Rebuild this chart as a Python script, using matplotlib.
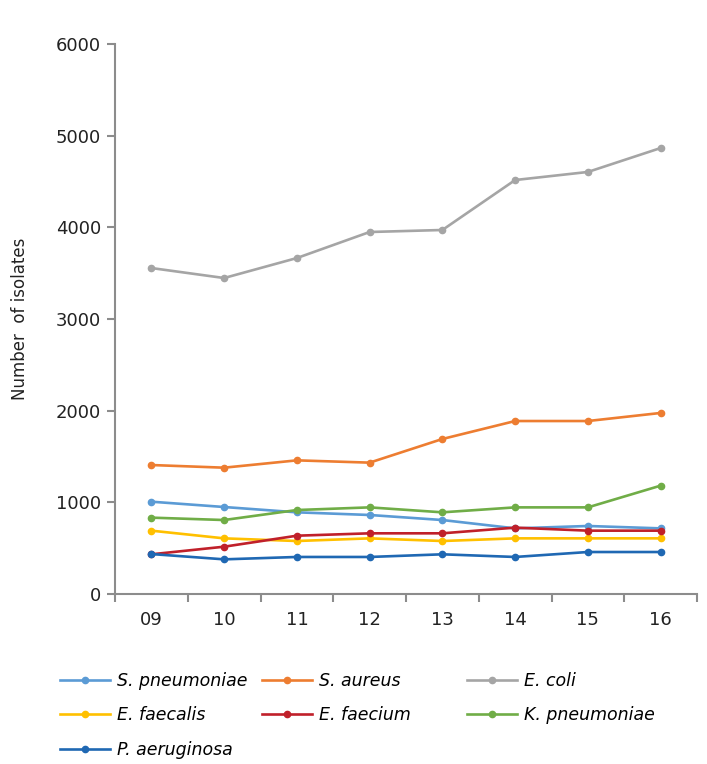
import matplotlib.pyplot as plt
from matplotlib.ticker import FixedLocator, NullFormatter

# Data
years = ['09', '10', '11', '12', '13', '14', '15', '16']
s_pneumoniae = [1007, 949, 891, 862, 807, 716, 742, 716]
s_aureus = [1407, 1378, 1458, 1433, 1691, 1887, 1887, 1975]
e_coli = [3556, 3447, 3665, 3949, 3971, 4516, 4604, 4865]
e_faecalis = [691, 607, 578, 607, 578, 607, 607, 607]
e_faecium = [433, 516, 636, 662, 662, 724, 691, 691]
k_pneumoniae = [833, 807, 916, 945, 891, 945, 945, 1182]
p_aeruginosa = [436, 378, 404, 404, 433, 404, 458, 458]

series = [
    ('S. pneumoniae', s_pneumoniae, '#5B9BD5'),
    ('S. aureus', s_aureus, '#ED7D31'),
    ('E. coli', e_coli, '#A5A5A5'),
    ('E. faecalis', e_faecalis, '#FFC000'),
    ('E. faecium', e_faecium, '#C0202A'),
    ('K. pneumoniae', k_pneumoniae, '#70AD47'),
    ('P. aeruginosa', p_aeruginosa, '#1F68B3'),
]

fig = plt.figure(figsize=(7.07, 7.64), dpi=100)
ax = fig.add_axes([115 / 707, 170 / 764, 582 / 707, 550 / 764])

x = list(range(len(years)))
lines = {}
for name, vals, col in series:
    ln, = ax.plot(x, vals, color=col, lw=1.9, marker='o', markersize=4.5, label=name)
    lines[name] = ln

ax.set_xlim(-0.5, len(years) - 0.5)
ax.set_ylim(0, 6000)
ax.set_yticks(range(0, 6001, 1000))
ax.set_xticks(x)
ax.set_xticklabels(years)
ax.xaxis.set_minor_locator(FixedLocator([i - 0.5 for i in range(len(years) + 1)]))
ax.xaxis.set_minor_formatter(NullFormatter())

for s in ['top', 'right']:
    ax.spines[s].set_visible(False)
for s in ['left', 'bottom']:
    ax.spines[s].set_color('#8C8C8C')
    ax.spines[s].set_linewidth(1.5)

ax.tick_params(axis='x', which='major', length=0, pad=12, labelsize=13, colors='#222222')
ax.tick_params(axis='x', which='minor', length=6, width=1.5, color='#8C8C8C')
ax.tick_params(axis='y', length=6, width=1.5, color='#8C8C8C', labelsize=13,
               labelcolor='#222222', pad=4)

ax.set_ylabel('Number  of isolates', fontsize=12, color='#222222')
ax.yaxis.set_label_coords(-86 / 582, 0.5)

# legend: one column each, placed like the reference
columns = [
    (60, ['S. pneumoniae', 'E. faecalis', 'P. aeruginosa']),
    (262, ['S. aureus', 'E. faecium']),
    (467, ['E. coli', 'K. pneumoniae']),
]
for xpos, names in columns:
    fig.legend([lines[n] for n in names], names, loc='upper left',
               bbox_to_anchor=(xpos / 707, (764 - 672) / 764), frameon=False,
               borderpad=0, borderaxespad=0, handlelength=2.9, handletextpad=0.4,
               labelspacing=0.95, prop={'size': 12.5, 'style': 'italic'})

fig.savefig('out.png', dpi=100)
